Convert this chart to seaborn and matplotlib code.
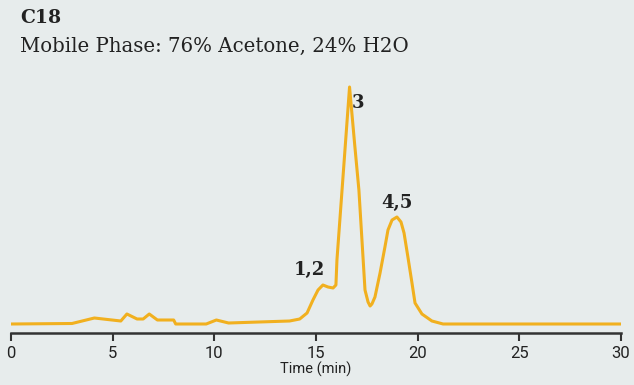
import matplotlib
matplotlib.use("Agg")
import matplotlib.pyplot as plt
import seaborn as sns
import pandas as pd

# Chromatogram trace (time in min, detector response in arbitrary units)
time_min = [0.0, 3.0, 4.1, 5.4, 5.7, 6.2, 6.5, 6.8, 7.2, 8.0, 8.1, 9.6, 10.1, 10.7,
            13.7, 14.2, 14.56, 14.85, 15.1, 15.34, 15.59, 15.84, 15.98, 16.03, 16.65,
            16.9, 17.11, 17.41, 17.56, 17.66, 17.75, 17.9, 18.15, 18.39, 18.54, 18.74,
            18.98, 19.18, 19.33, 19.52, 19.72, 19.87, 20.21, 20.7, 21.25, 30.0]
response = [0.0, 0.5, 6.0, 3.0, 10.0, 5.0, 5.0, 10.0, 4.0, 4.0, 0.0, 0.0, 4.0, 1.0,
            3.0, 5.0, 11.0, 24.0, 34.0, 39.0, 37.0, 36.0, 39.0, 64.0, 237.0,
            180.0, 134.0, 34.0, 22.0, 18.0, 20.0, 27.0, 51.0, 77.0, 94.0, 104.0,
            107.0, 102.0, 91.0, 67.0, 41.0, 21.0, 10.0, 3.0, 0.0, 0.0]

peak_labels = ["1,2", "3", "4,5"]
peak_label_time = [14.65, 17.05, 19.0]
peak_label_resp = [54.0, 221.0, 121.0]

xticks = [0, 5, 10, 15, 20, 25, 30]
title = "C18"
subtitle = "Mobile Phase: 76% Acetone, 24% H2O"
xlabel = "Time (min)"

bg = "#e7ecec"
line_color = "#f1b01f"
ink = "#222222"

sns.set_theme(style="white")
plt.rcParams['font.family'] = ['DejaVu Sans']

df = pd.DataFrame({"t": time_min, "r": response})

fig = plt.figure(figsize=(6.34, 3.85), dpi=100, facecolor=bg)
ax = fig.add_axes([11/634, (385-333)/385, 610/634, 253/385])
ax.set_facecolor(bg)

sns.lineplot(data=df, x="t", y="r", ax=ax, color=line_color, linewidth=2.2, sort=False)

ax.set_xlim(0, 30)
ax.set_ylim(-9, 244)
ax.set_xticks(xticks)
ax.set_xticklabels([str(v) for v in xticks], fontfamily="Roboto",
                   fontsize=12, color=ink)
ax.set_yticks([])
ax.set_ylabel("")
ax.set_xlabel(xlabel, fontfamily="Roboto", fontsize=10.5,
              color=ink, labelpad=1)
for s in ["top", "right", "left"]:
    ax.spines[s].set_visible(False)
ax.spines["bottom"].set_color("#333333")
ax.spines["bottom"].set_linewidth(1.8)
ax.tick_params(axis="x", direction="out", length=6, width=1.5, color="#333333", pad=3,
               bottom=True)

for lab, tx, ry in zip(peak_labels, peak_label_time, peak_label_resp):
    ax.text(tx, ry, lab, fontfamily="DejaVu Serif", fontweight="bold", fontsize=13,
            color=ink, ha="center", va="center")

fig.text(20/634, 1 - 18/385, title, fontfamily="DejaVu Serif", fontweight="bold",
         fontsize=13.5, color=ink, ha="left", va="center")
fig.text(20/634, 1 - 46/385, subtitle, fontfamily="DejaVu Serif", fontsize=14.2,
         color=ink, ha="left", va="center")

fig.savefig("out.png", dpi=100, facecolor=bg)
